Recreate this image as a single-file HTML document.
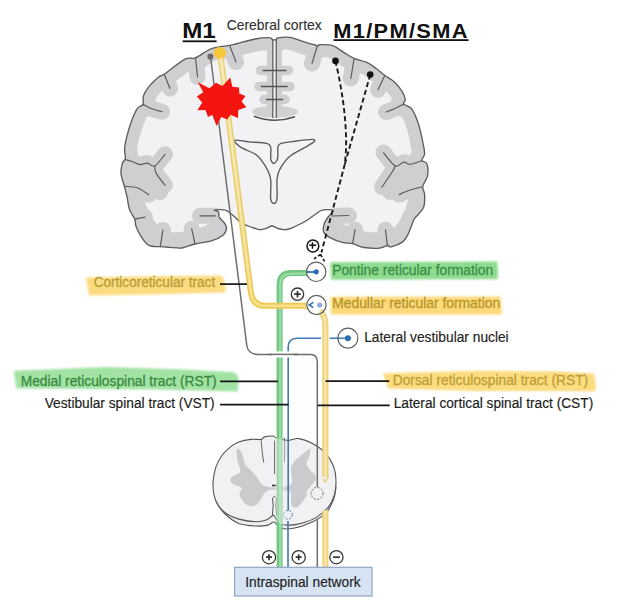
<!DOCTYPE html>
<html><head><meta charset="utf-8"><style>
html,body{margin:0;padding:0;background:#fff;width:624px;height:613px;overflow:hidden}
svg{display:block}
text{font-family:"Liberation Sans",sans-serif}
</style></head><body>
<svg width="624" height="613" viewBox="0 0 624 613">
<defs><clipPath id="cordclip"><path d="M213.1,481.4 C213.4,476.8 214.3,472.0 215.7,467.7 C217.1,463.4 219.3,459.1 221.7,455.7 C224.1,452.3 227.5,449.4 230.3,447.1 C233.2,444.8 235.4,443.3 238.8,442.0 C242.2,440.7 247.1,439.8 250.8,439.4 C254.5,439.0 258.8,439.8 261.1,439.4 C263.4,439.0 262.6,437.5 264.6,436.9 C266.6,436.3 271.2,435.9 273.1,436.0 C275.0,436.1 273.4,437.0 275.7,437.7 C278.0,438.4 283.1,440.1 287.0,440.3 C290.9,440.5 294.7,438.0 299.0,438.6 C303.3,439.2 308.7,441.4 313.0,443.7 C317.3,446.0 321.4,448.6 324.8,452.3 C328.2,456.0 331.5,461.1 333.4,466.0 C335.3,470.9 335.9,476.5 336.0,481.4 C336.1,486.2 335.6,490.8 334.3,495.1 C333.0,499.4 331.3,503.4 328.3,507.1 C325.3,510.8 320.3,514.8 316.3,517.4 C312.3,520.0 308.6,521.2 304.3,522.5 C300.0,523.8 294.6,525.0 290.6,525.1 C286.6,525.2 283.1,525.0 280.3,523.4 C277.5,521.8 275.3,517.0 274.0,515.7 C272.7,514.4 273.6,515.0 272.3,515.7 C271.0,516.4 269.0,519.0 266.3,520.0 C263.6,521.0 260.6,521.9 256.0,521.7 C251.4,521.6 243.7,520.4 238.8,519.1 C234.0,517.8 230.3,516.3 226.9,514.0 C223.5,511.7 220.5,508.5 218.3,505.4 C216.2,502.2 214.9,499.1 214.0,495.1 C213.1,491.1 212.8,486.0 213.1,481.4Z"/></clipPath><filter id="soft" x="-5%" y="-20%" width="110%" height="140%"><feGaussianBlur stdDeviation="0.8"/></filter><clipPath id="brainclip"><path d="M276.4,39.6 C277.3,39.3 275.6,38.3 277.9,37.9 C280.2,37.5 286.4,36.8 290.4,37.4 C294.4,38.0 297.5,39.9 302.0,41.2 C306.5,42.6 314.3,45.0 317.3,45.6 C320.3,46.2 317.4,44.6 320.0,44.6 C322.6,44.6 328.6,44.2 332.7,45.6 C336.8,47.0 340.8,50.7 344.4,52.8 C347.9,54.9 350.2,56.8 354.0,58.4 C357.8,60.0 363.1,60.7 366.9,62.4 C370.6,64.1 373.6,66.6 376.5,68.8 C379.4,71.0 381.6,73.1 384.5,75.3 C387.4,77.5 391.2,79.0 394.1,81.7 C397.0,84.4 400.2,88.3 402.1,91.3 C404.0,94.3 405.0,97.4 405.3,99.5 C405.6,101.6 402.6,102.5 403.7,104.1 C404.8,105.7 409.2,105.5 411.7,108.9 C414.2,112.3 416.8,118.9 418.7,124.7 C420.6,130.5 422.1,138.9 423.1,143.8 C424.1,148.7 424.8,151.2 424.6,154.0 C424.4,156.8 421.3,158.9 421.7,160.5 C422.1,162.1 425.8,160.9 426.8,163.5 C427.8,166.1 428.2,172.2 427.5,176.0 C426.8,179.8 423.2,183.3 422.7,186.4 C422.2,189.5 424.5,191.1 424.6,194.6 C424.7,198.1 425.1,203.6 423.5,207.5 C421.9,211.4 416.6,215.7 414.8,218.1 C413.0,220.5 414.0,219.4 412.9,222.0 C411.8,224.6 409.9,230.4 408.3,233.7 C406.7,237.0 405.8,239.4 403.0,241.6 C400.2,243.8 393.9,246.2 391.3,246.8 C388.7,247.5 389.3,245.3 387.4,245.5 C385.4,245.7 383.5,247.8 379.6,248.1 C375.7,248.4 368.5,248.2 364.0,247.5 C359.5,246.8 356.2,244.5 352.6,243.7 C349.0,242.8 346.2,243.5 342.3,242.4 C338.4,241.3 332.6,239.0 329.5,237.3 C326.4,235.6 324.6,234.3 323.7,232.0 C322.8,229.7 323.5,225.9 324.4,223.2 C325.3,220.5 327.5,218.1 329.0,216.0 C330.5,213.9 333.9,211.5 333.3,210.4 C332.7,209.3 327.8,209.6 325.6,209.7 C323.4,209.8 322.1,209.9 320.0,211.0 C317.9,212.1 315.5,214.2 313.0,216.0 C310.5,217.8 307.8,219.8 305.0,221.5 C302.2,223.2 298.7,224.8 296.0,226.0 C293.3,227.2 291.0,228.4 289.0,229.0 C287.0,229.6 285.8,229.8 284.0,229.7 C282.2,229.6 280.0,229.1 278.0,228.5 C276.0,227.9 274.0,226.0 272.0,226.0 C270.0,226.0 268.0,227.9 266.0,228.5 C264.0,229.1 262.0,229.8 260.0,229.7 C258.0,229.6 256.0,228.6 254.0,228.0 C252.0,227.4 250.2,226.9 248.0,226.0 C245.8,225.1 243.3,224.1 241.0,222.5 C238.7,220.9 236.2,218.1 234.0,216.3 C231.8,214.5 229.7,212.6 228.0,211.5 C226.3,210.4 226.3,210.0 224.0,209.8 C221.7,209.6 215.3,209.9 214.4,210.2 C213.5,210.5 217.7,210.6 218.5,211.8 C219.3,213.0 218.2,215.4 219.3,217.4 C220.4,219.4 223.8,221.9 225.0,223.8 C226.2,225.7 226.8,226.8 226.5,228.7 C226.2,230.6 225.7,233.0 223.3,235.0 C220.9,237.0 216.7,239.2 212.0,240.7 C207.3,242.2 200.0,242.8 195.0,244.0 C190.0,245.2 186.3,247.4 182.0,248.0 C177.7,248.6 172.9,247.5 169.3,247.3 C165.7,247.1 163.7,247.0 160.3,246.7 C156.9,246.4 152.0,247.1 148.8,245.4 C145.6,243.7 143.1,239.6 141.0,236.4 C138.9,233.2 137.1,229.1 136.0,226.2 C134.9,223.3 135.8,221.9 134.7,219.1 C133.6,216.3 130.8,213.2 129.5,209.5 C128.2,205.8 127.8,200.5 127.0,196.7 C126.2,192.8 125.4,190.3 124.4,186.4 C123.4,182.5 121.3,177.3 121.0,173.4 C120.7,169.5 121.7,165.6 122.4,163.1 C123.1,160.6 124.9,161.1 125.3,158.7 C125.7,156.3 124.3,152.2 124.6,148.5 C124.8,144.8 125.7,141.1 126.8,136.7 C127.9,132.3 129.5,126.7 131.2,122.0 C132.9,117.3 135.1,111.7 137.1,108.8 C139.1,105.9 142.0,106.5 143.0,104.4 C144.0,102.3 142.4,99.3 143.3,96.4 C144.2,93.5 145.9,90.5 148.5,87.2 C151.1,83.9 156.4,79.0 159.0,76.8 C161.6,74.6 159.9,77.1 164.2,74.2 C168.5,71.3 179.8,61.9 185.0,59.2 C190.2,56.5 191.1,59.6 195.5,57.8 C199.9,56.0 206.0,50.7 211.7,48.6 C217.4,46.5 225.3,46.2 229.6,45.4 C233.9,44.5 233.0,44.6 237.3,43.5 C241.6,42.4 250.0,40.0 255.3,39.0 C260.6,38.0 266.5,37.6 269.4,37.7 C272.3,37.8 271.4,39.3 272.6,39.6 C273.8,39.9 275.5,39.9 276.4,39.6Z"/></clipPath></defs>
<g>
<path d="M276.4,39.6 C277.3,39.3 275.6,38.3 277.9,37.9 C280.2,37.5 286.4,36.8 290.4,37.4 C294.4,38.0 297.5,39.9 302.0,41.2 C306.5,42.6 314.3,45.0 317.3,45.6 C320.3,46.2 317.4,44.6 320.0,44.6 C322.6,44.6 328.6,44.2 332.7,45.6 C336.8,47.0 340.8,50.7 344.4,52.8 C347.9,54.9 350.2,56.8 354.0,58.4 C357.8,60.0 363.1,60.7 366.9,62.4 C370.6,64.1 373.6,66.6 376.5,68.8 C379.4,71.0 381.6,73.1 384.5,75.3 C387.4,77.5 391.2,79.0 394.1,81.7 C397.0,84.4 400.2,88.3 402.1,91.3 C404.0,94.3 405.0,97.4 405.3,99.5 C405.6,101.6 402.6,102.5 403.7,104.1 C404.8,105.7 409.2,105.5 411.7,108.9 C414.2,112.3 416.8,118.9 418.7,124.7 C420.6,130.5 422.1,138.9 423.1,143.8 C424.1,148.7 424.8,151.2 424.6,154.0 C424.4,156.8 421.3,158.9 421.7,160.5 C422.1,162.1 425.8,160.9 426.8,163.5 C427.8,166.1 428.2,172.2 427.5,176.0 C426.8,179.8 423.2,183.3 422.7,186.4 C422.2,189.5 424.5,191.1 424.6,194.6 C424.7,198.1 425.1,203.6 423.5,207.5 C421.9,211.4 416.6,215.7 414.8,218.1 C413.0,220.5 414.0,219.4 412.9,222.0 C411.8,224.6 409.9,230.4 408.3,233.7 C406.7,237.0 405.8,239.4 403.0,241.6 C400.2,243.8 393.9,246.2 391.3,246.8 C388.7,247.5 389.3,245.3 387.4,245.5 C385.4,245.7 383.5,247.8 379.6,248.1 C375.7,248.4 368.5,248.2 364.0,247.5 C359.5,246.8 356.2,244.5 352.6,243.7 C349.0,242.8 346.2,243.5 342.3,242.4 C338.4,241.3 332.6,239.0 329.5,237.3 C326.4,235.6 324.6,234.3 323.7,232.0 C322.8,229.7 323.5,225.9 324.4,223.2 C325.3,220.5 327.5,218.1 329.0,216.0 C330.5,213.9 333.9,211.5 333.3,210.4 C332.7,209.3 327.8,209.6 325.6,209.7 C323.4,209.8 322.1,209.9 320.0,211.0 C317.9,212.1 315.5,214.2 313.0,216.0 C310.5,217.8 307.8,219.8 305.0,221.5 C302.2,223.2 298.7,224.8 296.0,226.0 C293.3,227.2 291.0,228.4 289.0,229.0 C287.0,229.6 285.8,229.8 284.0,229.7 C282.2,229.6 280.0,229.1 278.0,228.5 C276.0,227.9 274.0,226.0 272.0,226.0 C270.0,226.0 268.0,227.9 266.0,228.5 C264.0,229.1 262.0,229.8 260.0,229.7 C258.0,229.6 256.0,228.6 254.0,228.0 C252.0,227.4 250.2,226.9 248.0,226.0 C245.8,225.1 243.3,224.1 241.0,222.5 C238.7,220.9 236.2,218.1 234.0,216.3 C231.8,214.5 229.7,212.6 228.0,211.5 C226.3,210.4 226.3,210.0 224.0,209.8 C221.7,209.6 215.3,209.9 214.4,210.2 C213.5,210.5 217.7,210.6 218.5,211.8 C219.3,213.0 218.2,215.4 219.3,217.4 C220.4,219.4 223.8,221.9 225.0,223.8 C226.2,225.7 226.8,226.8 226.5,228.7 C226.2,230.6 225.7,233.0 223.3,235.0 C220.9,237.0 216.7,239.2 212.0,240.7 C207.3,242.2 200.0,242.8 195.0,244.0 C190.0,245.2 186.3,247.4 182.0,248.0 C177.7,248.6 172.9,247.5 169.3,247.3 C165.7,247.1 163.7,247.0 160.3,246.7 C156.9,246.4 152.0,247.1 148.8,245.4 C145.6,243.7 143.1,239.6 141.0,236.4 C138.9,233.2 137.1,229.1 136.0,226.2 C134.9,223.3 135.8,221.9 134.7,219.1 C133.6,216.3 130.8,213.2 129.5,209.5 C128.2,205.8 127.8,200.5 127.0,196.7 C126.2,192.8 125.4,190.3 124.4,186.4 C123.4,182.5 121.3,177.3 121.0,173.4 C120.7,169.5 121.7,165.6 122.4,163.1 C123.1,160.6 124.9,161.1 125.3,158.7 C125.7,156.3 124.3,152.2 124.6,148.5 C124.8,144.8 125.7,141.1 126.8,136.7 C127.9,132.3 129.5,126.7 131.2,122.0 C132.9,117.3 135.1,111.7 137.1,108.8 C139.1,105.9 142.0,106.5 143.0,104.4 C144.0,102.3 142.4,99.3 143.3,96.4 C144.2,93.5 145.9,90.5 148.5,87.2 C151.1,83.9 156.4,79.0 159.0,76.8 C161.6,74.6 159.9,77.1 164.2,74.2 C168.5,71.3 179.8,61.9 185.0,59.2 C190.2,56.5 191.1,59.6 195.5,57.8 C199.9,56.0 206.0,50.7 211.7,48.6 C217.4,46.5 225.3,46.2 229.6,45.4 C233.9,44.5 233.0,44.6 237.3,43.5 C241.6,42.4 250.0,40.0 255.3,39.0 C260.6,38.0 266.5,37.6 269.4,37.7 C272.3,37.8 271.4,39.3 272.6,39.6 C273.8,39.9 275.5,39.9 276.4,39.6Z" fill="#f2f2f4"/>
<g clip-path="url(#brainclip)">
<path d="M218.5,211.8 C218.6,212.7 218.2,215.4 219.3,217.4 C220.4,219.4 223.8,221.9 225.0,223.8 C226.2,225.7 226.8,226.8 226.5,228.7 C226.2,230.6 225.7,233.0 223.3,235.0 C220.9,237.0 216.7,239.2 212.0,240.7 C207.3,242.2 200.0,242.8 195.0,244.0 C190.0,245.2 186.3,247.4 182.0,248.0 C177.7,248.6 172.9,247.5 169.3,247.3 C165.7,247.1 163.7,247.0 160.3,246.7 C156.9,246.4 152.0,247.1 148.8,245.4 C145.6,243.7 143.1,239.6 141.0,236.4 C138.9,233.2 137.1,229.1 136.0,226.2 C134.9,223.3 135.8,221.9 134.7,219.1 C133.6,216.3 130.8,213.2 129.5,209.5 C128.2,205.8 127.8,200.5 127.0,196.7 C126.2,192.8 125.4,190.3 124.4,186.4 C123.4,182.5 121.3,177.3 121.0,173.4 C120.7,169.5 121.7,165.6 122.4,163.1 C123.1,160.6 124.9,161.1 125.3,158.7 C125.7,156.3 124.3,152.2 124.6,148.5 C124.8,144.8 125.7,141.1 126.8,136.7 C127.9,132.3 129.5,126.7 131.2,122.0 C132.9,117.3 135.1,111.7 137.1,108.8 C139.1,105.9 142.0,106.5 143.0,104.4 C144.0,102.3 142.4,99.3 143.3,96.4 C144.2,93.5 145.9,90.5 148.5,87.2 C151.1,83.9 156.4,79.0 159.0,76.8 C161.6,74.6 159.9,77.1 164.2,74.2 C168.5,71.3 179.8,61.9 185.0,59.2 C190.2,56.5 191.1,59.6 195.5,57.8 C199.9,56.0 206.0,50.7 211.7,48.6 C217.4,46.5 225.3,46.2 229.6,45.4 C233.9,44.5 233.0,44.6 237.3,43.5 C241.6,42.4 250.0,40.0 255.3,39.0 C260.6,38.0 266.5,37.6 269.4,37.7 C272.3,37.8 271.4,39.3 272.6,39.6 C273.8,39.9 275.5,39.9 276.4,39.6 C277.3,39.3 275.6,38.3 277.9,37.9 C280.2,37.5 286.4,36.8 290.4,37.4 C294.4,38.0 297.5,39.9 302.0,41.2 C306.5,42.6 314.3,45.0 317.3,45.6 C320.3,46.2 317.4,44.6 320.0,44.6 C322.6,44.6 328.6,44.2 332.7,45.6 C336.8,47.0 340.8,50.7 344.4,52.8 C347.9,54.9 350.2,56.8 354.0,58.4 C357.8,60.0 363.1,60.7 366.9,62.4 C370.6,64.1 373.6,66.6 376.5,68.8 C379.4,71.0 381.6,73.1 384.5,75.3 C387.4,77.5 391.2,79.0 394.1,81.7 C397.0,84.4 400.2,88.3 402.1,91.3 C404.0,94.3 405.0,97.4 405.3,99.5 C405.6,101.6 402.6,102.5 403.7,104.1 C404.8,105.7 409.2,105.5 411.7,108.9 C414.2,112.3 416.8,118.9 418.7,124.7 C420.6,130.5 422.1,138.9 423.1,143.8 C424.1,148.7 424.8,151.2 424.6,154.0 C424.4,156.8 421.3,158.9 421.7,160.5 C422.1,162.1 425.8,160.9 426.8,163.5 C427.8,166.1 428.2,172.2 427.5,176.0 C426.8,179.8 423.2,183.3 422.7,186.4 C422.2,189.5 424.5,191.1 424.6,194.6 C424.7,198.1 425.1,203.6 423.5,207.5 C421.9,211.4 416.6,215.7 414.8,218.1 C413.0,220.5 414.0,219.4 412.9,222.0 C411.8,224.6 409.9,230.4 408.3,233.7 C406.7,237.0 405.8,239.4 403.0,241.6 C400.2,243.8 393.9,246.2 391.3,246.8 C388.7,247.5 389.3,245.3 387.4,245.5 C385.4,245.7 383.5,247.8 379.6,248.1 C375.7,248.4 368.5,248.2 364.0,247.5 C359.5,246.8 356.2,244.5 352.6,243.7 C349.0,242.8 346.2,243.5 342.3,242.4 C338.4,241.3 332.6,239.0 329.5,237.3 C326.4,235.6 324.6,234.3 323.7,232.0 C322.8,229.7 323.5,225.9 324.4,223.2 C325.3,220.5 327.5,218.1 329.0,216.0 C330.5,213.9 332.6,211.3 333.3,210.4" stroke="#cfcfd1" stroke-width="25" fill="none" stroke-linejoin="round"/>
<path d="M229.6,45.4 L236,62" stroke="#cfcfd1" stroke-width="16" fill="none" stroke-linecap="round" stroke-linejoin="round"/>
<path d="M195.5,57.8 L197.5,76.8" stroke="#cfcfd1" stroke-width="16" fill="none" stroke-linecap="round" stroke-linejoin="round"/>
<path d="M164.2,74.2 L170,88.5" stroke="#cfcfd1" stroke-width="16" fill="none" stroke-linecap="round" stroke-linejoin="round"/>
<path d="M143.0,104.4 C144.5,105.1 148.6,107.6 151.8,108.8 C155.0,110.0 160.3,111.2 162.0,111.7" stroke="#cfcfd1" stroke-width="16" fill="none" stroke-linecap="round" stroke-linejoin="round"/>
<path d="M125.3,159.5 C126.5,159.9 130.2,160.8 132.7,161.7 C135.1,162.5 137.6,164.4 140.0,164.6 C142.4,164.8 145.0,162.9 147.4,163.1 C149.8,163.3 151.8,167.5 154.7,166.0 C157.6,164.5 163.3,156.2 165.0,154.3" stroke="#cfcfd1" stroke-width="16" fill="none" stroke-linecap="round" stroke-linejoin="round"/>
<path d="M154.7,166.0 C154.9,167.2 154.5,170.2 156.2,173.4 C157.9,176.6 163.5,183.2 165.0,185.2" stroke="#cfcfd1" stroke-width="16" fill="none" stroke-linecap="round" stroke-linejoin="round"/>
<path d="M124.4,186.4 C126.5,186.6 133.1,186.3 137.2,187.7 C141.3,189.1 146.9,193.5 148.8,194.7" stroke="#cfcfd1" stroke-width="16" fill="none" stroke-linecap="round" stroke-linejoin="round"/>
<path d="M134.7,219.1 L144.9,217.2" stroke="#cfcfd1" stroke-width="16" fill="none" stroke-linecap="round" stroke-linejoin="round"/>
<path d="M160.3,246.7 L162.9,230" stroke="#cfcfd1" stroke-width="16" fill="none" stroke-linecap="round" stroke-linejoin="round"/>
<path d="M195,244 L191.7,228.7" stroke="#cfcfd1" stroke-width="16" fill="none" stroke-linecap="round" stroke-linejoin="round"/>
<path d="M200,215.8 L215.3,215.8" stroke="#cfcfd1" stroke-width="16" fill="none" stroke-linecap="round" stroke-linejoin="round"/>
<path d="M317.3,46 L312,63.4" stroke="#cfcfd1" stroke-width="16" fill="none" stroke-linecap="round" stroke-linejoin="round"/>
<path d="M354,59.2 L350.8,78.5" stroke="#cfcfd1" stroke-width="16" fill="none" stroke-linecap="round" stroke-linejoin="round"/>
<path d="M384.5,76 L378,89.7" stroke="#cfcfd1" stroke-width="16" fill="none" stroke-linecap="round" stroke-linejoin="round"/>
<path d="M403.7,104.1 C402.2,104.8 397.9,107.2 395.0,108.5 C392.1,109.8 387.5,111.4 386.0,112.0" stroke="#cfcfd1" stroke-width="16" fill="none" stroke-linecap="round" stroke-linejoin="round"/>
<path d="M421.7,160.7 C419.8,161.3 412.9,164.1 410.0,164.3 C407.1,164.5 406.5,161.8 404.0,162.1 C401.5,162.3 398.6,167.4 395.2,165.8 C391.8,164.2 385.4,154.8 383.5,152.6" stroke="#cfcfd1" stroke-width="16" fill="none" stroke-linecap="round" stroke-linejoin="round"/>
<path d="M395.2,165.8 C394.7,166.8 394.5,168.2 392.3,171.7 C390.1,175.2 383.7,184.4 382.0,187.0" stroke="#cfcfd1" stroke-width="16" fill="none" stroke-linecap="round" stroke-linejoin="round"/>
<path d="M422.7,186.7 C420.6,187.2 413.9,188.7 410.0,190.0 C406.1,191.3 401.0,193.8 399.2,194.6" stroke="#cfcfd1" stroke-width="16" fill="none" stroke-linecap="round" stroke-linejoin="round"/>
<path d="M332,216 L348.7,215.5" stroke="#cfcfd1" stroke-width="16" fill="none" stroke-linecap="round" stroke-linejoin="round"/>
<path d="M352.6,243.7 L355,229.6" stroke="#cfcfd1" stroke-width="16" fill="none" stroke-linecap="round" stroke-linejoin="round"/>
<path d="M387.4,245.5 L385.5,229.8" stroke="#cfcfd1" stroke-width="16" fill="none" stroke-linecap="round" stroke-linejoin="round"/>
<path d="M124,168 C126,200 135,232 160,246 C185,250 210,244 226,230" stroke="#cfcfd1" stroke-width="30" fill="none"/>
<path d="M128,170 L150,178 L160,192" stroke="#cfcfd1" stroke-width="16" stroke-linecap="round" fill="none"/>
<path d="M422,171 L400,178 L390,192" stroke="#cfcfd1" stroke-width="16" stroke-linecap="round" fill="none"/>
<path d="M427,170 C425,205 418,232 395,246 C370,250 345,246 323,228" stroke="#cfcfd1" stroke-width="30" fill="none"/>
<path d="M274.5,38 L274.5,108" stroke="#cfcfd1" stroke-width="15" fill="none"/>
<path d="M260.5,70.4 L288.5,70.4 M259,86.4 L290,86.4 M264,99.5 L285,99.5" stroke="#cfcfd1" stroke-width="9.5" stroke-linecap="round" fill="none"/>
<ellipse cx="275" cy="111.8" rx="23" ry="6" fill="#d1d1d3"/>
<path d="M219,190 L333,190 L333.3,210.4 L325.6,209.7 L320,211 L313,216 L305,221.5 L296,226 L289,229 L284,229.7 L278,228.5 L272,226 L266,228.5 L260,229.7 L254,228 L248,226 L241,222.5 L234,216.3 L228,211.5 L224,209.8 L214.4,210.2 L219,211.5 Z" fill="#f2f2f4"/>
<path d="M193,214.5 Q194.5,208.5 203,208.6 L214,209.6 Q219.5,211 219.5,216.5 L217,220 L199,220 Q193,219 193,214.5Z" fill="#cfcfd1"/>
<path d="M331,210.2 L351,209.8 Q357.5,211 357,217 Q355,222 348,221.5 L333,221 Z" fill="#cfcfd1"/>
</g>
<path d="M229.6,45.4 L236,62" stroke="#5c5c5c" stroke-width="1.2" fill="none" stroke-linecap="round" stroke-linejoin="round"/>
<path d="M195.5,57.8 L197.5,76.8" stroke="#5c5c5c" stroke-width="1.2" fill="none" stroke-linecap="round" stroke-linejoin="round"/>
<path d="M164.2,74.2 L170,88.5" stroke="#5c5c5c" stroke-width="1.2" fill="none" stroke-linecap="round" stroke-linejoin="round"/>
<path d="M143.0,104.4 C144.5,105.1 148.6,107.6 151.8,108.8 C155.0,110.0 160.3,111.2 162.0,111.7" stroke="#5c5c5c" stroke-width="1.2" fill="none" stroke-linecap="round" stroke-linejoin="round"/>
<path d="M125.3,159.5 C126.5,159.9 130.2,160.8 132.7,161.7 C135.1,162.5 137.6,164.4 140.0,164.6 C142.4,164.8 145.0,162.9 147.4,163.1 C149.8,163.3 151.8,167.5 154.7,166.0 C157.6,164.5 163.3,156.2 165.0,154.3" stroke="#5c5c5c" stroke-width="1.2" fill="none" stroke-linecap="round" stroke-linejoin="round"/>
<path d="M154.7,166.0 C154.9,167.2 154.5,170.2 156.2,173.4 C157.9,176.6 163.5,183.2 165.0,185.2" stroke="#5c5c5c" stroke-width="1.2" fill="none" stroke-linecap="round" stroke-linejoin="round"/>
<path d="M124.4,186.4 C126.5,186.6 133.1,186.3 137.2,187.7 C141.3,189.1 146.9,193.5 148.8,194.7" stroke="#5c5c5c" stroke-width="1.2" fill="none" stroke-linecap="round" stroke-linejoin="round"/>
<path d="M134.7,219.1 L144.9,217.2" stroke="#5c5c5c" stroke-width="1.2" fill="none" stroke-linecap="round" stroke-linejoin="round"/>
<path d="M160.3,246.7 L162.9,230" stroke="#5c5c5c" stroke-width="1.2" fill="none" stroke-linecap="round" stroke-linejoin="round"/>
<path d="M195,244 L191.7,228.7" stroke="#5c5c5c" stroke-width="1.2" fill="none" stroke-linecap="round" stroke-linejoin="round"/>
<path d="M200,215.8 L215.3,215.8" stroke="#5c5c5c" stroke-width="1.2" fill="none" stroke-linecap="round" stroke-linejoin="round"/>
<path d="M317.3,46 L312,63.4" stroke="#5c5c5c" stroke-width="1.2" fill="none" stroke-linecap="round" stroke-linejoin="round"/>
<path d="M354,59.2 L350.8,78.5" stroke="#5c5c5c" stroke-width="1.2" fill="none" stroke-linecap="round" stroke-linejoin="round"/>
<path d="M384.5,76 L378,89.7" stroke="#5c5c5c" stroke-width="1.2" fill="none" stroke-linecap="round" stroke-linejoin="round"/>
<path d="M403.7,104.1 C402.2,104.8 397.9,107.2 395.0,108.5 C392.1,109.8 387.5,111.4 386.0,112.0" stroke="#5c5c5c" stroke-width="1.2" fill="none" stroke-linecap="round" stroke-linejoin="round"/>
<path d="M421.7,160.7 C419.8,161.3 412.9,164.1 410.0,164.3 C407.1,164.5 406.5,161.8 404.0,162.1 C401.5,162.3 398.6,167.4 395.2,165.8 C391.8,164.2 385.4,154.8 383.5,152.6" stroke="#5c5c5c" stroke-width="1.2" fill="none" stroke-linecap="round" stroke-linejoin="round"/>
<path d="M395.2,165.8 C394.7,166.8 394.5,168.2 392.3,171.7 C390.1,175.2 383.7,184.4 382.0,187.0" stroke="#5c5c5c" stroke-width="1.2" fill="none" stroke-linecap="round" stroke-linejoin="round"/>
<path d="M422.7,186.7 C420.6,187.2 413.9,188.7 410.0,190.0 C406.1,191.3 401.0,193.8 399.2,194.6" stroke="#5c5c5c" stroke-width="1.2" fill="none" stroke-linecap="round" stroke-linejoin="round"/>
<path d="M332,216 L348.7,215.5" stroke="#5c5c5c" stroke-width="1.2" fill="none" stroke-linecap="round" stroke-linejoin="round"/>
<path d="M352.6,243.7 L355,229.6" stroke="#5c5c5c" stroke-width="1.2" fill="none" stroke-linecap="round" stroke-linejoin="round"/>
<path d="M387.4,245.5 L385.5,229.8" stroke="#5c5c5c" stroke-width="1.2" fill="none" stroke-linecap="round" stroke-linejoin="round"/>
<path d="M274.5,41 L274.5,117" stroke="#efeff1" stroke-width="2.4" fill="none"/>
<path d="M272.8,40 L272.8,118 M276.3,40 L276.3,118" stroke="#5c5c5c" stroke-width="1.2" fill="none"/>
<path d="M262.6,70.4 L286.5,70.4 M260.8,86.4 L287.7,86.4 M266,99.5 L283.1,99.5" stroke="#555" stroke-width="1.5" fill="none"/>
<path d="M254,116.2 Q274,124 295,116.8" stroke="#505050" stroke-width="1.6" fill="none"/>
<path d="M276.4,39.6 C277.3,39.3 275.6,38.3 277.9,37.9 C280.2,37.5 286.4,36.8 290.4,37.4 C294.4,38.0 297.5,39.9 302.0,41.2 C306.5,42.6 314.3,45.0 317.3,45.6 C320.3,46.2 317.4,44.6 320.0,44.6 C322.6,44.6 328.6,44.2 332.7,45.6 C336.8,47.0 340.8,50.7 344.4,52.8 C347.9,54.9 350.2,56.8 354.0,58.4 C357.8,60.0 363.1,60.7 366.9,62.4 C370.6,64.1 373.6,66.6 376.5,68.8 C379.4,71.0 381.6,73.1 384.5,75.3 C387.4,77.5 391.2,79.0 394.1,81.7 C397.0,84.4 400.2,88.3 402.1,91.3 C404.0,94.3 405.0,97.4 405.3,99.5 C405.6,101.6 402.6,102.5 403.7,104.1 C404.8,105.7 409.2,105.5 411.7,108.9 C414.2,112.3 416.8,118.9 418.7,124.7 C420.6,130.5 422.1,138.9 423.1,143.8 C424.1,148.7 424.8,151.2 424.6,154.0 C424.4,156.8 421.3,158.9 421.7,160.5 C422.1,162.1 425.8,160.9 426.8,163.5 C427.8,166.1 428.2,172.2 427.5,176.0 C426.8,179.8 423.2,183.3 422.7,186.4 C422.2,189.5 424.5,191.1 424.6,194.6 C424.7,198.1 425.1,203.6 423.5,207.5 C421.9,211.4 416.6,215.7 414.8,218.1 C413.0,220.5 414.0,219.4 412.9,222.0 C411.8,224.6 409.9,230.4 408.3,233.7 C406.7,237.0 405.8,239.4 403.0,241.6 C400.2,243.8 393.9,246.2 391.3,246.8 C388.7,247.5 389.3,245.3 387.4,245.5 C385.4,245.7 383.5,247.8 379.6,248.1 C375.7,248.4 368.5,248.2 364.0,247.5 C359.5,246.8 356.2,244.5 352.6,243.7 C349.0,242.8 346.2,243.5 342.3,242.4 C338.4,241.3 332.6,239.0 329.5,237.3 C326.4,235.6 324.6,234.3 323.7,232.0 C322.8,229.7 323.5,225.9 324.4,223.2 C325.3,220.5 327.5,218.1 329.0,216.0 C330.5,213.9 333.9,211.5 333.3,210.4 C332.7,209.3 327.8,209.6 325.6,209.7 C323.4,209.8 322.1,209.9 320.0,211.0 C317.9,212.1 315.5,214.2 313.0,216.0 C310.5,217.8 307.8,219.8 305.0,221.5 C302.2,223.2 298.7,224.8 296.0,226.0 C293.3,227.2 291.0,228.4 289.0,229.0 C287.0,229.6 285.8,229.8 284.0,229.7 C282.2,229.6 280.0,229.1 278.0,228.5 C276.0,227.9 274.0,226.0 272.0,226.0 C270.0,226.0 268.0,227.9 266.0,228.5 C264.0,229.1 262.0,229.8 260.0,229.7 C258.0,229.6 256.0,228.6 254.0,228.0 C252.0,227.4 250.2,226.9 248.0,226.0 C245.8,225.1 243.3,224.1 241.0,222.5 C238.7,220.9 236.2,218.1 234.0,216.3 C231.8,214.5 229.7,212.6 228.0,211.5 C226.3,210.4 226.3,210.0 224.0,209.8 C221.7,209.6 215.3,209.9 214.4,210.2 C213.5,210.5 217.7,210.6 218.5,211.8 C219.3,213.0 218.2,215.4 219.3,217.4 C220.4,219.4 223.8,221.9 225.0,223.8 C226.2,225.7 226.8,226.8 226.5,228.7 C226.2,230.6 225.7,233.0 223.3,235.0 C220.9,237.0 216.7,239.2 212.0,240.7 C207.3,242.2 200.0,242.8 195.0,244.0 C190.0,245.2 186.3,247.4 182.0,248.0 C177.7,248.6 172.9,247.5 169.3,247.3 C165.7,247.1 163.7,247.0 160.3,246.7 C156.9,246.4 152.0,247.1 148.8,245.4 C145.6,243.7 143.1,239.6 141.0,236.4 C138.9,233.2 137.1,229.1 136.0,226.2 C134.9,223.3 135.8,221.9 134.7,219.1 C133.6,216.3 130.8,213.2 129.5,209.5 C128.2,205.8 127.8,200.5 127.0,196.7 C126.2,192.8 125.4,190.3 124.4,186.4 C123.4,182.5 121.3,177.3 121.0,173.4 C120.7,169.5 121.7,165.6 122.4,163.1 C123.1,160.6 124.9,161.1 125.3,158.7 C125.7,156.3 124.3,152.2 124.6,148.5 C124.8,144.8 125.7,141.1 126.8,136.7 C127.9,132.3 129.5,126.7 131.2,122.0 C132.9,117.3 135.1,111.7 137.1,108.8 C139.1,105.9 142.0,106.5 143.0,104.4 C144.0,102.3 142.4,99.3 143.3,96.4 C144.2,93.5 145.9,90.5 148.5,87.2 C151.1,83.9 156.4,79.0 159.0,76.8 C161.6,74.6 159.9,77.1 164.2,74.2 C168.5,71.3 179.8,61.9 185.0,59.2 C190.2,56.5 191.1,59.6 195.5,57.8 C199.9,56.0 206.0,50.7 211.7,48.6 C217.4,46.5 225.3,46.2 229.6,45.4 C233.9,44.5 233.0,44.6 237.3,43.5 C241.6,42.4 250.0,40.0 255.3,39.0 C260.6,38.0 266.5,37.6 269.4,37.7 C272.3,37.8 271.4,39.3 272.6,39.6 C273.8,39.9 275.5,39.9 276.4,39.6Z" fill="none" stroke="#5e5e5e" stroke-width="1.35"/>
<path d="M234.6,140.2 C235.9,139.3 243.7,141.3 249.0,141.8 C254.3,142.3 263.1,142.5 266.7,143.4 C270.3,144.3 270.0,145.3 270.7,147.4 C271.4,149.5 270.6,153.8 270.7,156.0 C270.8,158.2 270.5,159.1 271.0,160.3 C271.5,161.6 272.9,163.5 273.9,163.5 C274.9,163.5 276.3,161.6 277.0,160.3 C277.7,159.1 277.8,158.2 277.9,156.0 C278.0,153.8 277.4,149.5 277.9,147.4 C278.4,145.3 277.8,144.5 281.0,143.4 C284.2,142.3 291.8,141.7 297.0,141.0 C302.2,140.3 309.5,139.3 312.3,139.4 C315.1,139.5 315.2,140.5 314.0,141.8 C312.8,143.1 309.2,144.9 305.0,147.4 C300.8,149.9 293.2,153.2 289.0,157.0 C284.8,160.8 281.5,166.2 279.5,170.0 C277.5,173.8 277.4,174.7 277.0,179.5 C276.6,184.3 277.5,194.7 277.0,198.7 C276.5,202.7 274.9,203.5 273.9,203.5 C272.8,203.5 271.2,202.7 270.7,198.7 C270.2,194.7 271.4,184.6 270.7,179.5 C270.0,174.4 269.0,172.3 266.7,168.3 C264.4,164.3 261.3,158.9 257.0,155.4 C252.7,151.9 244.7,149.9 241.0,147.4 C237.3,144.9 233.3,141.1 234.6,140.2Z" fill="#f3f3f5" stroke="#5a5a5a" stroke-width="1.35"/>
</g>

<!-- spinal cord -->
<path d="M213.1,481.4 C213.2,482.0 213.4,481.4 214.0,484.8 C214.6,488.2 214.8,497.1 216.6,502.0 C218.4,506.9 221.4,510.4 225.1,514.0 C228.8,517.6 233.7,521.4 238.8,523.4 C244.0,525.4 251.1,525.7 256.0,526.0 C260.9,526.3 265.0,525.8 268.0,525.1 C271.0,524.4 271.9,521.6 274.0,522.0 C276.1,522.4 277.2,526.6 280.3,527.7 C283.4,528.8 287.2,529.4 292.3,528.5 C297.4,527.6 305.4,525.2 311.1,522.5 C316.8,519.8 322.8,516.4 326.6,512.3 C330.4,508.2 332.4,502.3 334.0,498.0 C335.6,493.7 335.7,488.5 336.0,486.6" fill="#efeff1" stroke="#555" stroke-width="1.1"/>
<path d="M213.1,481.4 C213.4,476.8 214.3,472.0 215.7,467.7 C217.1,463.4 219.3,459.1 221.7,455.7 C224.1,452.3 227.5,449.4 230.3,447.1 C233.2,444.8 235.4,443.3 238.8,442.0 C242.2,440.7 247.1,439.8 250.8,439.4 C254.5,439.0 258.8,439.8 261.1,439.4 C263.4,439.0 262.6,437.5 264.6,436.9 C266.6,436.3 271.2,435.9 273.1,436.0 C275.0,436.1 273.4,437.0 275.7,437.7 C278.0,438.4 283.1,440.1 287.0,440.3 C290.9,440.5 294.7,438.0 299.0,438.6 C303.3,439.2 308.7,441.4 313.0,443.7 C317.3,446.0 321.4,448.6 324.8,452.3 C328.2,456.0 331.5,461.1 333.4,466.0 C335.3,470.9 335.9,476.5 336.0,481.4 C336.1,486.2 335.6,490.8 334.3,495.1 C333.0,499.4 331.3,503.4 328.3,507.1 C325.3,510.8 320.3,514.8 316.3,517.4 C312.3,520.0 308.6,521.2 304.3,522.5 C300.0,523.8 294.6,525.0 290.6,525.1 C286.6,525.2 283.1,525.0 280.3,523.4 C277.5,521.8 275.3,517.0 274.0,515.7 C272.7,514.4 273.6,515.0 272.3,515.7 C271.0,516.4 269.0,519.0 266.3,520.0 C263.6,521.0 260.6,521.9 256.0,521.7 C251.4,521.6 243.7,520.4 238.8,519.1 C234.0,517.8 230.3,516.3 226.9,514.0 C223.5,511.7 220.5,508.5 218.3,505.4 C216.2,502.2 214.9,499.1 214.0,495.1 C213.1,491.1 212.8,486.0 213.1,481.4Z" fill="#f1f1f3" stroke="#555" stroke-width="1.1"/>
<path d="M274.5,487.5 C273.7,487.1 271.4,487.5 269.7,487.2 C267.9,486.9 265.4,486.1 264.0,485.5 C262.6,484.9 262.4,485.1 261.1,483.5 C259.8,481.9 257.9,478.3 256.0,476.0 C254.2,473.7 251.8,471.4 250.0,469.5 C248.2,467.6 246.2,466.7 245.0,464.3 C243.8,461.9 243.9,457.6 242.8,455.0 C241.7,452.4 239.5,449.5 238.5,448.8 C237.5,448.1 236.8,448.6 236.6,450.6 C236.4,452.6 236.9,457.3 237.5,460.8 C238.1,464.3 241.0,468.9 240.2,471.5 C239.4,474.1 234.2,475.1 232.5,476.5 C230.8,477.9 230.2,478.8 230.3,480.0 C230.4,481.2 231.1,482.7 233.0,484.0 C234.9,485.3 240.4,486.1 241.5,487.8 C242.6,489.6 238.9,491.9 239.5,494.5 C240.1,497.1 242.9,501.2 244.8,503.2 C246.7,505.2 248.7,506.2 250.8,506.3 C252.9,506.4 255.7,505.4 257.5,504.0 C259.3,502.6 260.2,499.9 261.5,498.0 C262.8,496.1 263.6,493.8 265.0,492.5 C266.4,491.2 268.4,490.5 270.0,490.0 C271.6,489.5 273.8,489.9 274.5,489.5 C275.2,489.1 275.3,487.9 274.5,487.5Z" fill="#cbcbcd"/>
<path d="M274.5,487.5 C275.9,487.1 280.2,487.6 283.0,487.0 C285.8,486.4 289.9,485.8 291.3,484.0 C292.7,482.2 291.7,478.6 291.6,476.0 C291.6,473.4 290.5,470.6 291.0,468.1 C291.5,465.6 292.9,463.0 294.7,460.8 C296.5,458.6 299.8,456.5 302.0,454.7 C304.2,452.9 306.7,450.7 308.1,449.8 C309.5,448.9 310.5,447.8 310.6,449.2 C310.7,450.6 309.4,455.9 308.7,458.3 C308.0,460.7 306.0,461.8 306.3,463.8 C306.6,465.9 309.1,468.7 310.6,470.6 C312.1,472.6 314.7,473.9 315.5,475.5 C316.3,477.1 316.3,478.5 315.5,480.3 C314.7,482.1 312.0,484.7 310.6,486.5 C309.2,488.3 307.6,489.7 306.9,491.3 C306.2,492.9 307.1,494.4 306.3,496.2 C305.5,498.0 303.5,500.5 302.0,502.3 C300.5,504.1 298.7,506.5 297.1,507.2 C295.5,507.9 293.2,508.0 292.2,506.6 C291.2,505.2 291.3,501.2 291.0,498.7 C290.7,496.2 291.8,492.9 290.5,491.5 C289.2,490.1 285.7,490.8 283.0,490.5 C280.3,490.2 275.9,490.0 274.5,489.5 C273.1,489.0 273.1,487.9 274.5,487.5Z" fill="#cbcbcd"/>
<path d="M261.1,440.3 Q262,452 263.7,462.6 M274.6,440.7 L274.6,474 M284.4,437.5 Q285,450 284.4,462.3" stroke="#666" stroke-width="1" fill="none"/>
<path d="M272,485.5 h5" stroke="#333" stroke-width="1.6"/>
<path d="M272.3,515.7 Q274,505 272.5,498 Q274,495 276.5,498 Q275,505 276.7,515.7" stroke="#555" stroke-width="1" fill="none"/>
<circle cx="317.1" cy="493.4" r="6" fill="none" stroke="#666" stroke-width="1" stroke-dasharray="2,1.5"/>
<circle cx="288" cy="514.8" r="4.3" fill="none" stroke="#4a7fb8" stroke-width="1" stroke-dasharray="2,1.5"/>

<!-- titles -->
<rect x="182.6" y="40.4" width="34" height="1.8" fill="#111"/>
<rect x="333.5" y="39.2" width="135" height="1.8" fill="#111"/>

<!-- dashed PM/SMA lines -->
<path d="M335.4,61 C340,80 344.5,105 345.8,130 C346.5,145 346,155 344.6,165 L321.4,252.6 M370.3,74.6 L344.6,165" stroke="#1a1a1a" stroke-width="1.9" stroke-dasharray="5,3" fill="none"/>
<path d="M320.5,254.5 L314,258.8 M320.5,254.5 L324.7,261.5" stroke="#1a1a1a" stroke-width="1.6" stroke-dasharray="3,2" fill="none"/>
<circle cx="335.5" cy="60.9" r="3.3" fill="#111"/>
<circle cx="370.2" cy="74.6" r="3.3" fill="#111"/>

<!-- M1 tracts -->
<path d="M210.5,56.5 L246.8,345.5 Q248,354.4 258.8,354.4 L310.6,354.4 Q317.3,354.4 317.3,362 L317.3,487" stroke="#6e6e6e" stroke-width="1.5" fill="none"/>
<circle cx="210.4" cy="56.6" r="3.1" fill="#6a6a6a"/>
<path d="M317.3,519 L317.3,567" stroke="#6e6e6e" stroke-width="1.5" fill="none"/>
<!-- green -->
<path d="M307,273 L291.5,273 Q279.6,273 279.6,285 L279.6,567" stroke="#72c682" stroke-width="6" fill="none"/>
<path d="M307,273.6 L291.5,273.6 Q280.2,273.6 280.2,285 L280.2,567" stroke="#98dca4" stroke-width="2.4" fill="none"/>
<g clip-path="url(#cordclip)"><rect x="275" y="430" width="10" height="100" fill="#f1f1f3" opacity="0.4"/></g>
<!-- blue -->
<path d="M347.2,338.2 L297,338.2 Q288.2,338.3 288.2,347 L288.2,510.5 M288,521 L288,567" stroke="#3f7ab8" stroke-width="1.6" fill="none"/>
<line x1="307" y1="272" x2="316.2" y2="272" stroke="#2f6db5" stroke-width="1.8"/>
<path d="M272,354.4 L294,354.4" stroke="#ffffff" stroke-width="6" fill="none"/>
<path d="M268,354.4 L298,354.4" stroke="#6e6e6e" stroke-width="1.5" fill="none"/>
<!-- yellow -->
<defs><linearGradient id="yg" x1="0" y1="53" x2="0" y2="310" gradientUnits="userSpaceOnUse"><stop offset="0" stop-color="#ead27c"/><stop offset="0.75" stop-color="#e9cc62"/><stop offset="1" stop-color="#efc850"/></linearGradient>
<linearGradient id="yg2" x1="0" y1="53" x2="0" y2="310" gradientUnits="userSpaceOnUse"><stop offset="0" stop-color="#f6ecbc"/><stop offset="0.75" stop-color="#f4e4a4"/><stop offset="1" stop-color="#f7df88"/></linearGradient></defs>
<path d="M220.2,53 L250.8,292 Q252.5,305.8 265,305.8 L307,305.8" stroke="url(#yg)" stroke-width="6" fill="none"/>
<path d="M220.2,53 L250.8,292 Q252.5,305.8 265,305.8 L307,305.8" stroke="url(#yg2)" stroke-width="2.8" fill="none"/>
<path d="M325.4,333 L325.4,343" stroke="#fff" stroke-width="8.5" fill="none"/>
<path d="M319.7,311.4 Q325.2,315 325.4,325 L325.4,477 M325.4,510.5 L325.4,567" stroke="#efd176" stroke-width="6.2" fill="none"/>
<path d="M319.7,311.4 Q325.2,315 325.4,325 L325.4,477 M325.4,510.5 L325.4,567" stroke="#f5e4a6" stroke-width="3" fill="none"/>
<path d="M323,479 L325.5,482 L328.5,476" stroke="#e8cf74" stroke-width="1.4" fill="none"/>
<ellipse cx="219.8" cy="52.8" rx="6.4" ry="5.8" fill="#f4c73c"/>
<path d="M197.8,82.3 L209.4,88.3 L216.0,82.7 L222.5,86.0 L230.2,77.4 L232.4,86.7 L239.0,87.6 L239.3,93.5 L245.4,96.0 L241.6,101.4 L246.4,107.3 L238.2,110.1 L238.0,118.0 L230.4,114.7 L227.3,119.5 L221.4,117.0 L216.5,125.9 L212.3,114.7 L208.0,117.0 L205.5,110.1 L197.4,110.2 L202.2,102.5 L196.9,96.5 L203.3,92.3Z" fill="#f41410"/>

<!-- nuclei circles -->
<circle cx="316.2" cy="271.8" r="9.7" fill="none" stroke="#606060" stroke-width="1.2"/>
<circle cx="316.2" cy="271.8" r="2.6" fill="#2f6db5"/>
<circle cx="316.5" cy="305" r="9.6" fill="none" stroke="#606060" stroke-width="1.2"/>
<path d="M313.3,302.4 L309.3,305 L313.3,307.6" stroke="#2f6db5" stroke-width="1.6" fill="none"/>
<circle cx="319.7" cy="305" r="2.6" fill="#8fa9d8"/>
<circle cx="347.9" cy="338.2" r="10" fill="none" stroke="#606060" stroke-width="1.2"/>
<circle cx="347.9" cy="338.2" r="3" fill="#2f6db5"/>

<!-- plus signs -->
<g stroke="#151515" stroke-width="1.5" fill="none">
<circle cx="312.9" cy="246" r="5.9"/><path d="M309.2,245.3 h7 M312.5,242.3 v6.5"/>
<circle cx="297.5" cy="294.2" r="6.2" stroke="#333" stroke-width="1.3"/><path d="M294.2,294.2 h6.6 M297.5,290.9 v6.6" stroke="#333" stroke-width="1.7"/>
</g>

<!-- labels -->
<path d="M85.8,277.6 L150,276.3 L222,275.5 Q226,284 225.8,292.6 L150,294.6 L89,295.6 Z" fill="#fcdc80" filter="url(#soft)"/>
<line x1="220" y1="284.1" x2="247" y2="284.1" stroke="#151515" stroke-width="1.7"/>

<path d="M330.5,262.2 L497,261.6 Q498.6,270 497.8,279.2 L331,279.8 Z" fill="#8edb90" filter="url(#soft)"/>
<path d="M330.5,296.8 L500.5,296.6 Q502,305 501.7,314.5 L331,314.6 Z" fill="#fcd97a" filter="url(#soft)"/>


<path d="M13.8,370.8 L105,367 L180,369.3 L232,372 Q238.5,373 238.5,380 L238,391.6 L150,389.5 L16.2,388.6 Z" fill="#a2e3a4" filter="url(#soft)"/>
<line x1="220.1" y1="381.3" x2="277.8" y2="381.3" stroke="#151515" stroke-width="1.7"/>
<line x1="220.1" y1="404.6" x2="288.6" y2="404.6" stroke="#151515" stroke-width="1.7"/>

<path d="M383,373.2 L475,370.8 L560,371.5 L594,373.4 Q596,380 595.6,391.2 L475,391 L388,388.6 Z" fill="#fcdc80" filter="url(#soft)"/>
<line x1="325.6" y1="381.2" x2="389.3" y2="381.2" stroke="#151515" stroke-width="1.7"/>
<line x1="317.6" y1="405.3" x2="389.7" y2="405.3" stroke="#151515" stroke-width="1.7"/>

<!-- bottom -->
<rect x="234.6" y="567.3" width="137.4" height="28.7" fill="#d5e3f3" stroke="#8fa6c0" stroke-width="1.2"/>
<g stroke="#333" stroke-width="1.3" fill="none">
<circle cx="269" cy="557.2" r="6.6"/><path d="M266,557.2 h6 M269,554.2 v6" stroke-width="1.7"/>
<circle cx="298.7" cy="557.2" r="6.6"/><path d="M295.7,557.2 h6 M298.7,554.2 v6" stroke-width="1.7"/>
<circle cx="336.4" cy="557.2" r="6.6"/><path d="M332.9,557.2 h7" stroke-width="1.7"/>
</g>
<text x="226.70" y="29.90" font-size="14.6" font-weight="normal" textLength="95.01" lengthAdjust="spacingAndGlyphs" letter-spacing="0" fill="#333" stroke="#333" stroke-width="0.15">Cerebral cortex</text>
<text x="332.20" y="274.80" font-size="14" font-weight="normal" textLength="161.00" lengthAdjust="spacingAndGlyphs" letter-spacing="0" fill="#3b8f46" stroke="#3b8f46" stroke-width="0.3">Pontine reticular formation</text>
<text x="332.20" y="308.10" font-size="14" font-weight="normal" textLength="168.01" lengthAdjust="spacingAndGlyphs" letter-spacing="0" fill="#b8962a" stroke="#b8962a" stroke-width="0.3">Medullar reticular formation</text>
<text x="93.70" y="287.30" font-size="14" font-weight="normal" textLength="121.50" lengthAdjust="spacingAndGlyphs" letter-spacing="0" fill="#b99c38" stroke="#b99c38" stroke-width="0.3">Corticoreticular tract</text>
<text x="20.70" y="385.70" font-size="14" font-weight="normal" textLength="196.01" lengthAdjust="spacingAndGlyphs" letter-spacing="0" fill="#3a8a42" stroke="#3a8a42" stroke-width="0.3">Medial reticulospinal tract (RST)</text>
<text x="44.70" y="407.60" font-size="14" font-weight="normal" textLength="170.00" lengthAdjust="spacingAndGlyphs" letter-spacing="0" fill="#1a1a1a" stroke="#1a1a1a" stroke-width="0.15">Vestibular spinal tract (VST)</text>
<text x="364.20" y="342.10" font-size="14" font-weight="normal" textLength="144.50" lengthAdjust="spacingAndGlyphs" letter-spacing="0" fill="#222" stroke="#222" stroke-width="0.15">Lateral vestibular nuclei</text>
<text x="392.70" y="385.20" font-size="14" font-weight="normal" textLength="195.51" lengthAdjust="spacingAndGlyphs" letter-spacing="0" fill="#bf9f36" stroke="#bf9f36" stroke-width="0.3">Dorsal reticulospinal tract (RST)</text>
<text x="393.70" y="408.20" font-size="14" font-weight="normal" textLength="199.51" lengthAdjust="spacingAndGlyphs" letter-spacing="0" fill="#1a1a1a" stroke="#1a1a1a" stroke-width="0.15">Lateral cortical spinal tract (CST)</text>
<text x="245.20" y="586.60" font-size="14" font-weight="normal" textLength="115.50" lengthAdjust="spacingAndGlyphs" letter-spacing="0" fill="#222" stroke="#222" stroke-width="0.15">Intraspinal network</text>
<text x="182.20" y="37.50" font-size="21.6" font-weight="bold" textLength="33.59" lengthAdjust="spacingAndGlyphs" letter-spacing="0" fill="#111" stroke="#111" stroke-width="0">M1</text>
<text x="333.20" y="37.60" font-size="19.8" font-weight="bold" textLength="135.54" lengthAdjust="spacingAndGlyphs" letter-spacing="1.2" fill="#111" stroke="#111" stroke-width="0">M1/PM/SMA</text>
</svg>
</body></html>
